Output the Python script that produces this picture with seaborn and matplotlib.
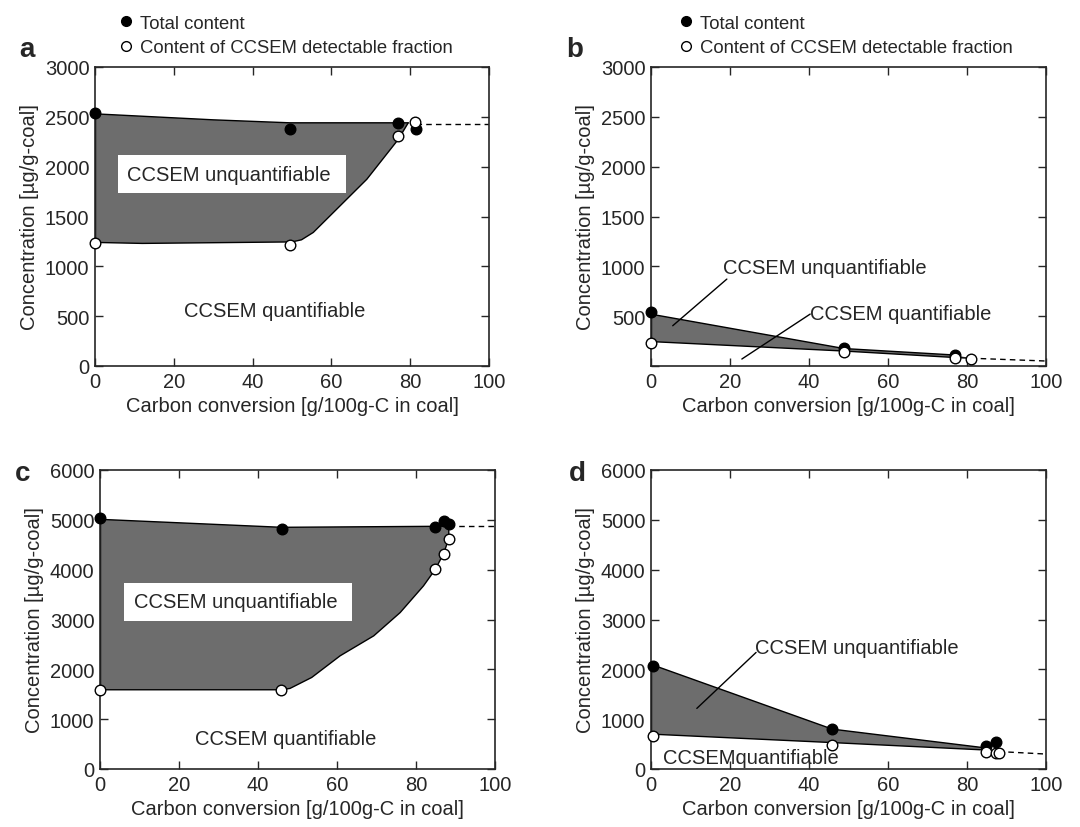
import matplotlib
matplotlib.use("Agg")
import matplotlib.pyplot as plt
from matplotlib.lines import Line2D
import seaborn as sns
import pandas as pd

sns.set_style("ticks")
plt.rcParams['font.family'] = ['Liberation Sans', 'DejaVu Sans']
plt.rcParams['font.size'] = 14.5

# ---------------- data ----------------
# panel a
a_total_x = [0, 49.5, 77, 81.5]
a_total_y = [2540, 2375, 2435, 2375]
a_det_x = [0, 49.5, 77, 81.2]
a_det_y = [1236, 1213, 2308, 2449]
a_up_x = [0, 30, 49.5, 77, 79.5]
a_up_y = [2530, 2470, 2440, 2440, 2440]
a_lo_x = [0, 12, 50, 52.4, 55.4, 60.5, 69, 77, 79.5]
a_lo_y = [1240, 1230, 1245, 1266, 1340, 1540, 1874, 2275, 2440]
a_dash_x = [81.5, 100]
a_dash_y = [2430, 2430]

# panel b
b_total_x = [0, 48.9, 77]
b_total_y = [538, 180, 110]
b_det_x = [0, 48.9, 77, 80.9]
b_det_y = [230, 144, 84, 70]
b_up_x = [0, 48.9, 77]
b_up_y = [520, 175, 110]
b_lo_x = [0, 48.9, 77, 80.9]
b_lo_y = [245, 150, 85, 78]
b_dash_x = [81, 100]
b_dash_y = [78, 50]

# panel c
c_total_x = [0, 46, 84.9, 87.0, 88.3]
c_total_y = [5031, 4824, 4864, 4978, 4924]
c_det_x = [0, 45.9, 84.9, 87.0, 88.3]
c_det_y = [1590, 1590, 4009, 4323, 4623]
c_up_x = [0, 46, 85, 88.3]
c_up_y = [5010, 4850, 4870, 4880]
c_lo_x = [0, 45.9, 48.1, 53.6, 60.8, 69.3, 76, 81.9, 84.9, 87.0, 88.3, 88.3]
c_lo_y = [1590, 1590, 1617, 1837, 2272, 2672, 3140, 3675, 4009, 4323, 4623, 4880]
c_dash_x = [88.3, 100]
c_dash_y = [4880, 4880]

# panel d
d_total_x = [0.4, 45.9, 84.7, 87.3]
d_total_y = [2071, 802, 468, 535]
d_det_x = [0.4, 45.9, 84.7, 87.3, 88.0]
d_det_y = [668, 481, 347, 314, 320]
d_up_x = [0, 45.9, 85]
d_up_y = [2100, 800, 420]
d_lo_x = [0, 45.9, 85]
d_lo_y = [700, 530, 380]
d_dash_x = [88, 100]
d_dash_y = [350, 300]

xticks = [0, 20, 40, 60, 80, 100]
yticks_top = [0, 500, 1000, 1500, 2000, 2500, 3000]
yticks_bot = [0, 1000, 2000, 3000, 4000, 5000, 6000]

xlabel = "Carbon conversion [g/100g-C in coal]"
ylabel = "Concentration [\u00b5g/g-coal]"
legend_labels = ["Total content", "Content of CCSEM detectable fraction"]

FILL = "#6d6d6d"
FS = 14.5

W, H = 1080, 828
fig = plt.figure(figsize=(W / 100, H / 100), dpi=100)


def mkax(l, t, r, b):
    return fig.add_axes([l / W, 1 - b / H, (r - l) / W, (b - t) / H])


def draw(ax, tx, ty, dx, dy, ux, uy, lx, ly, dashx, dashy, ymax, yticks, hide0=False):
    poly_x = list(ux) + list(lx)[::-1]
    poly_y = list(uy) + list(ly)[::-1]
    ax.fill(poly_x, poly_y, color=FILL, lw=0, zorder=1)
    ax.plot(ux, uy, color="black", lw=1.0, zorder=2)
    ax.plot(lx, ly, color="black", lw=1.0, zorder=2)
    ax.plot([ux[0], lx[0]], [uy[0], ly[0]], color="black", lw=1.0, zorder=2)
    ax.plot(dashx, dashy, color="black", lw=1.0, ls=(0, (4, 3)), zorder=2)
    dft = pd.DataFrame({"x": tx, "y": ty})
    dfd = pd.DataFrame({"x": dx, "y": dy})
    sns.scatterplot(data=dft, x="x", y="y", ax=ax, color="black", edgecolor="black",
                    s=58, linewidth=1, zorder=4, clip_on=False, legend=False)
    sns.scatterplot(data=dfd, x="x", y="y", ax=ax, color="white", edgecolor="black",
                    s=58, linewidth=1, zorder=5, clip_on=False, legend=False)
    ax.set_xlim(0, 100)
    ax.set_ylim(0, ymax)
    ax.set_xticks(xticks)
    ax.set_yticks(yticks)
    if hide0:
        ax.set_yticklabels([""] + [str(v) for v in yticks[1:]])
    ax.tick_params(direction="in", top=True, right=True, length=6, width=1,
                   labelsize=FS, pad=4)
    for s in ax.spines.values():
        s.set_linewidth(1.2)
    ax.set_xlabel(xlabel, fontsize=FS, labelpad=4)
    ax.set_ylabel(ylabel, fontsize=FS, labelpad=4)


axa = mkax(95, 68, 489, 367)
axb = mkax(651, 68, 1046, 367)
axc = mkax(100, 471, 495, 770)
axd = mkax(651, 471, 1046, 770)

draw(axa, a_total_x, a_total_y, a_det_x, a_det_y, a_up_x, a_up_y, a_lo_x, a_lo_y,
     a_dash_x, a_dash_y, 3000, yticks_top)
draw(axb, b_total_x, b_total_y, b_det_x, b_det_y, b_up_x, b_up_y, b_lo_x, b_lo_y,
     b_dash_x, b_dash_y, 3000, yticks_top, hide0=True)
draw(axc, c_total_x, c_total_y, c_det_x, c_det_y, c_up_x, c_up_y, c_lo_x, c_lo_y,
     c_dash_x, c_dash_y, 6000, yticks_bot)
draw(axd, d_total_x, d_total_y, d_det_x, d_det_y, d_up_x, d_up_y, d_lo_x, d_lo_y,
     d_dash_x, d_dash_y, 6000, yticks_bot)

# annotations panel a
axa.text(8.2, 1924, "CCSEM unquantifiable ", ha="left", va="center", fontsize=FS,
         bbox=dict(facecolor="white", edgecolor="none", pad=7), zorder=6)
axa.text(45.5, 561, "CCSEM quantifiable", ha="center", va="center", fontsize=FS)
# annotations panel c
axc.text(8.5, 3354, "CCSEM unquantifiable ", ha="left", va="center", fontsize=FS,
         bbox=dict(facecolor="white", edgecolor="none", pad=7), zorder=6)
axc.text(47, 621, "CCSEM quantifiable", ha="center", va="center", fontsize=FS)
# annotations panel b
axb.text(18.3, 989, "CCSEM unquantifiable", ha="left", va="center", fontsize=FS)
axb.plot([5.5, 19.2], [404, 872], color="black", lw=1.0, zorder=6)
axb.text(40.3, 531, "CCSEM quantifiable", ha="left", va="center", fontsize=FS)
axb.plot([23, 40.3], [70, 521], color="black", lw=1.0, zorder=6)
# annotations panel d
axd.text(26.4, 2439, "CCSEM unquantifiable", ha="left", va="center", fontsize=FS)
axd.plot([11.6, 26.6], [1216, 2339], color="black", lw=1.0, zorder=6)
axd.text(3.0, 234, "CCSEMquantifiable", ha="left", va="center", fontsize=FS, zorder=6)

# legends
handles = [Line2D([], [], ls="none", marker="o", markersize=7, markerfacecolor="black",
                  markeredgecolor="black"),
           Line2D([], [], ls="none", marker="o", markersize=7, markerfacecolor="white",
                  markeredgecolor="black")]
for x0 in (108 / W, 668 / W):
    fig.legend(handles, legend_labels, loc="upper left", bbox_to_anchor=(x0, 1.0 - 3 / H),
               frameon=False, fontsize=13.3, handlelength=0.6, handletextpad=0.45,
               labelspacing=0.4, borderpad=0.2)

# panel letters
for x, y, s in [(27, 50, "a"), (575, 50, "b"), (23, 474, "c"), (577, 474, "d")]:
    fig.text(x / W, 1 - y / H, s, fontsize=20, fontweight="bold", ha="center", va="center")

fig.savefig("out.png", dpi=100)
